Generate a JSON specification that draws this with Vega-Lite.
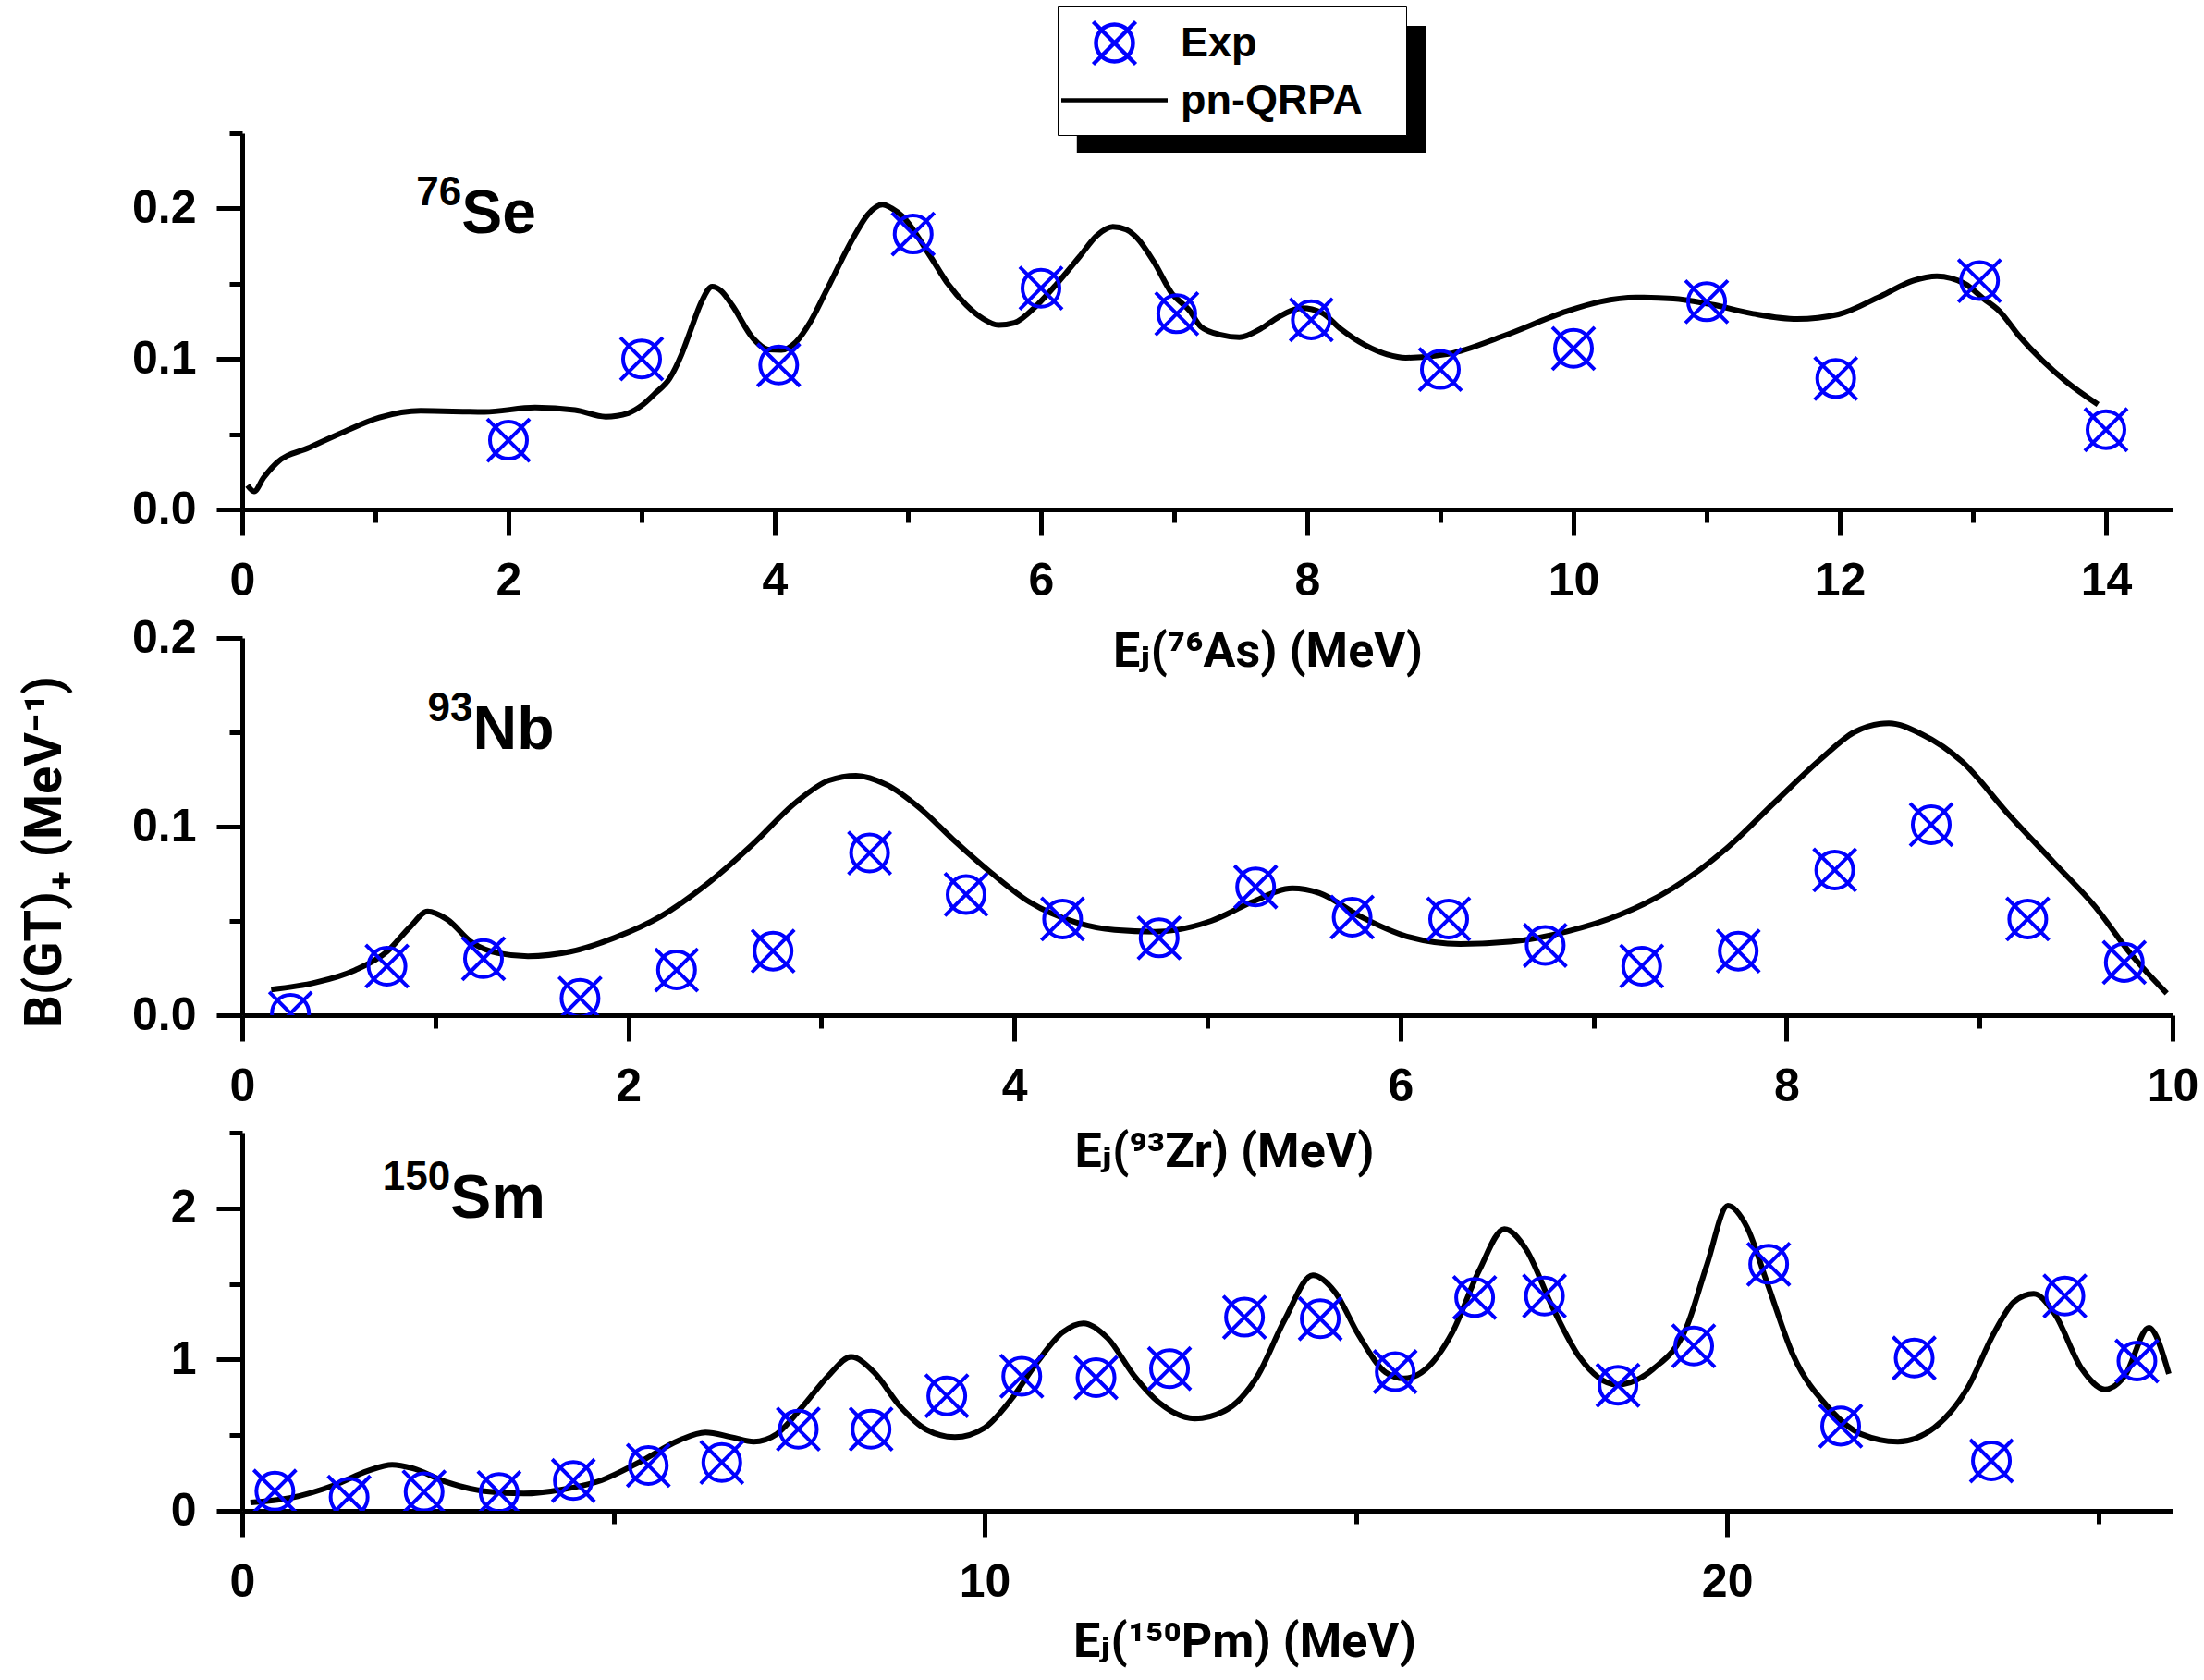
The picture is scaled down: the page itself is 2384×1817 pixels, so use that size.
{
  "$schema": "https://vega.github.io/schema/vega-lite/v6.json",
  "background": "white",
  "padding": {"left": 20, "top": 6, "right": 5, "bottom": 5},
  "config": {
    "font": "Liberation Sans",
    "view": {"stroke": null},
    "axis": {
      "grid": false,
      "domainColor": "black",
      "domainWidth": 5,
      "tickColor": "black",
      "tickWidth": 5,
      "tickSize": 28,
      "labelFont": "Liberation Sans",
      "labelFontWeight": "bold",
      "labelFontSize": 50,
      "labelColor": "black",
      "labelFlush": false,
      "labelOverlap": false,
      "titleFont": "Roboto, Liberation Sans, DejaVu Sans, sans-serif",
      "titleFontWeight": "bold",
      "titleFontSize": 52,
      "titleColor": "black"
    },
    "axisX": {"labelPadding": 24},
    "axisY": {"labelPadding": 22}
  },
  "datasets": {
    "se_exp": [
      {"E": 2.0, "B": 0.046, "series": "Exp"},
      {"E": 3.0, "B": 0.100, "series": "Exp"},
      {"E": 4.03, "B": 0.096, "series": "Exp"},
      {"E": 5.04, "B": 0.183, "series": "Exp"},
      {"E": 6.0, "B": 0.147, "series": "Exp"},
      {"E": 7.02, "B": 0.130, "series": "Exp"},
      {"E": 8.03, "B": 0.126, "series": "Exp"},
      {"E": 9.0, "B": 0.093, "series": "Exp"},
      {"E": 10.0, "B": 0.107, "series": "Exp"},
      {"E": 11.0, "B": 0.138, "series": "Exp"},
      {"E": 11.97, "B": 0.087, "series": "Exp"},
      {"E": 13.05, "B": 0.152, "series": "Exp"},
      {"E": 14.0, "B": 0.053, "series": "Exp"}
    ],
    "se_th": [
      {"E": 0.04, "B": 0.016}, {"E": 0.09, "B": 0.012}, {"E": 0.16, "B": 0.021}, {"E": 0.26, "B": 0.031},
      {"E": 0.5, "B": 0.041}, {"E": 0.75, "B": 0.051}, {"E": 1.03, "B": 0.061}, {"E": 1.34, "B": 0.0655},
      {"E": 1.82, "B": 0.0648}, {"E": 2.2, "B": 0.0677}, {"E": 2.5, "B": 0.066}, {"E": 2.73, "B": 0.0616},
      {"E": 2.9, "B": 0.064}, {"E": 3.0, "B": 0.069}, {"E": 3.1, "B": 0.077}, {"E": 3.21, "B": 0.087},
      {"E": 3.3, "B": 0.103}, {"E": 3.37, "B": 0.1195}, {"E": 3.45, "B": 0.138}, {"E": 3.53, "B": 0.148},
      {"E": 3.6, "B": 0.145}, {"E": 3.68, "B": 0.1357}, {"E": 3.84, "B": 0.1134}, {"E": 3.95, "B": 0.1063},
      {"E": 4.05, "B": 0.106}, {"E": 4.16, "B": 0.1113}, {"E": 4.27, "B": 0.125}, {"E": 4.38, "B": 0.1439},
      {"E": 4.59, "B": 0.1805}, {"E": 4.7, "B": 0.196}, {"E": 4.81, "B": 0.2025}, {"E": 4.88, "B": 0.2},
      {"E": 4.96, "B": 0.1947}, {"E": 5.17, "B": 0.168}, {"E": 5.3, "B": 0.15}, {"E": 5.44, "B": 0.1357},
      {"E": 5.56, "B": 0.127}, {"E": 5.68, "B": 0.1225}, {"E": 5.8, "B": 0.124}, {"E": 5.97, "B": 0.1357},
      {"E": 6.12, "B": 0.15}, {"E": 6.29, "B": 0.168}, {"E": 6.42, "B": 0.182}, {"E": 6.54, "B": 0.1878},
      {"E": 6.64, "B": 0.186}, {"E": 6.72, "B": 0.1805}, {"E": 6.85, "B": 0.1642}, {"E": 6.98, "B": 0.1439},
      {"E": 7.12, "B": 0.1317}, {"E": 7.2, "B": 0.1215}, {"E": 7.35, "B": 0.116}, {"E": 7.49, "B": 0.1144},
      {"E": 7.65, "B": 0.12}, {"E": 7.78, "B": 0.1276}, {"E": 7.96, "B": 0.1337}, {"E": 8.11, "B": 0.1306},
      {"E": 8.25, "B": 0.12}, {"E": 8.43, "B": 0.1094}, {"E": 8.6, "B": 0.103}, {"E": 8.74, "B": 0.1008},
      {"E": 9.06, "B": 0.1033}, {"E": 9.48, "B": 0.1155}, {"E": 9.95, "B": 0.1317}, {"E": 10.2, "B": 0.138},
      {"E": 10.47, "B": 0.1408}, {"E": 10.75, "B": 0.14}, {"E": 11.0, "B": 0.1368}, {"E": 11.35, "B": 0.13},
      {"E": 11.68, "B": 0.1265}, {"E": 11.99, "B": 0.1296}, {"E": 12.31, "B": 0.1418}, {"E": 12.55, "B": 0.152},
      {"E": 12.73, "B": 0.155}, {"E": 12.94, "B": 0.15}, {"E": 13.08, "B": 0.14}, {"E": 13.2, "B": 0.1317},
      {"E": 13.35, "B": 0.115}, {"E": 13.52, "B": 0.0991}, {"E": 13.7, "B": 0.085}, {"E": 13.94, "B": 0.0697}
    ],
    "nb_exp": [
      {"E": 0.25, "B": 0.001}, {"E": 0.75, "B": 0.026}, {"E": 1.25, "B": 0.030}, {"E": 1.75, "B": 0.009},
      {"E": 2.25, "B": 0.024}, {"E": 2.75, "B": 0.034}, {"E": 3.25, "B": 0.086}, {"E": 3.75, "B": 0.064},
      {"E": 4.25, "B": 0.051}, {"E": 4.75, "B": 0.041}, {"E": 5.25, "B": 0.068}, {"E": 5.75, "B": 0.052},
      {"E": 6.25, "B": 0.051}, {"E": 6.75, "B": 0.037}, {"E": 7.25, "B": 0.026}, {"E": 7.75, "B": 0.034},
      {"E": 8.25, "B": 0.077}, {"E": 8.75, "B": 0.101}, {"E": 9.25, "B": 0.051}, {"E": 9.75, "B": 0.028}
    ],
    "nb_th": [
      {"E": 0.15, "B": 0.0136}, {"E": 0.38, "B": 0.0173}, {"E": 0.585, "B": 0.0239}, {"E": 0.75, "B": 0.0337},
      {"E": 0.87, "B": 0.0468}, {"E": 0.96, "B": 0.055}, {"E": 1.06, "B": 0.0509}, {"E": 1.19, "B": 0.0386},
      {"E": 1.325, "B": 0.0329}, {"E": 1.48, "B": 0.0313}, {"E": 1.7, "B": 0.0337}, {"E": 1.93, "B": 0.0411},
      {"E": 2.17, "B": 0.0525}, {"E": 2.4, "B": 0.0689}, {"E": 2.64, "B": 0.0902}, {"E": 2.87, "B": 0.113},
      {"E": 3.04, "B": 0.1245}, {"E": 3.18, "B": 0.127}, {"E": 3.34, "B": 0.1221}, {"E": 3.51, "B": 0.1098},
      {"E": 3.68, "B": 0.0934}, {"E": 3.88, "B": 0.0755}, {"E": 4.08, "B": 0.0599}, {"E": 4.32, "B": 0.0492},
      {"E": 4.52, "B": 0.0452}, {"E": 4.73, "B": 0.0443}, {"E": 5.02, "B": 0.05}, {"E": 5.23, "B": 0.0599},
      {"E": 5.44, "B": 0.0673}, {"E": 5.58, "B": 0.0648}, {"E": 5.79, "B": 0.0525}, {"E": 6.03, "B": 0.0419},
      {"E": 6.31, "B": 0.0378}, {"E": 6.58, "B": 0.0391}, {"E": 6.86, "B": 0.0443}, {"E": 7.14, "B": 0.0534},
      {"E": 7.41, "B": 0.0673}, {"E": 7.69, "B": 0.0885}, {"E": 7.94, "B": 0.113}, {"E": 8.18, "B": 0.136},
      {"E": 8.35, "B": 0.15}, {"E": 8.53, "B": 0.1548}, {"E": 8.7, "B": 0.149}, {"E": 8.91, "B": 0.1344},
      {"E": 9.15, "B": 0.1065}, {"E": 9.39, "B": 0.0804}, {"E": 9.6, "B": 0.0574}, {"E": 9.78, "B": 0.0329},
      {"E": 9.97, "B": 0.0116}
    ],
    "sm_exp": [
      {"E": 0.44, "B": 0.13}, {"E": 1.44, "B": 0.09}, {"E": 2.45, "B": 0.125}, {"E": 3.46, "B": 0.12},
      {"E": 4.46, "B": 0.20}, {"E": 5.47, "B": 0.30}, {"E": 6.46, "B": 0.32}, {"E": 7.49, "B": 0.54},
      {"E": 8.47, "B": 0.54}, {"E": 9.49, "B": 0.76}, {"E": 10.5, "B": 0.89}, {"E": 11.5, "B": 0.88},
      {"E": 12.49, "B": 0.94}, {"E": 13.5, "B": 1.28}, {"E": 14.52, "B": 1.27}, {"E": 15.53, "B": 0.92},
      {"E": 16.6, "B": 1.41}, {"E": 17.54, "B": 1.42}, {"E": 18.53, "B": 0.83}, {"E": 19.55, "B": 1.09},
      {"E": 20.56, "B": 1.63}, {"E": 21.53, "B": 0.56}, {"E": 22.52, "B": 1.01}, {"E": 23.56, "B": 0.33},
      {"E": 24.55, "B": 1.42}, {"E": 25.52, "B": 0.99}
    ],
    "sm_th": [
      {"E": 0.11, "B": 0.055}, {"E": 0.64, "B": 0.084}, {"E": 1.25, "B": 0.171}, {"E": 1.69, "B": 0.263},
      {"E": 2.02, "B": 0.304}, {"E": 2.3, "B": 0.28}, {"E": 2.74, "B": 0.192}, {"E": 3.26, "B": 0.13},
      {"E": 3.79, "B": 0.114}, {"E": 4.31, "B": 0.141}, {"E": 4.84, "B": 0.202}, {"E": 5.36, "B": 0.324},
      {"E": 5.89, "B": 0.467}, {"E": 6.24, "B": 0.518}, {"E": 6.59, "B": 0.487}, {"E": 6.89, "B": 0.457},
      {"E": 7.2, "B": 0.508}, {"E": 7.55, "B": 0.691}, {"E": 7.9, "B": 0.895}, {"E": 8.2, "B": 1.017},
      {"E": 8.51, "B": 0.916}, {"E": 8.86, "B": 0.691}, {"E": 9.21, "B": 0.538}, {"E": 9.6, "B": 0.487},
      {"E": 10.0, "B": 0.549}, {"E": 10.35, "B": 0.732}, {"E": 10.7, "B": 0.977}, {"E": 11.05, "B": 1.18},
      {"E": 11.33, "B": 1.24}, {"E": 11.66, "B": 1.14}, {"E": 12.01, "B": 0.895}, {"E": 12.35, "B": 0.715},
      {"E": 12.83, "B": 0.61}, {"E": 13.23, "B": 0.66}, {"E": 13.68, "B": 0.895}, {"E": 14.04, "B": 1.262},
      {"E": 14.42, "B": 1.557}, {"E": 14.72, "B": 1.445}, {"E": 15.04, "B": 1.16}, {"E": 15.4, "B": 0.916},
      {"E": 15.65, "B": 0.875}, {"E": 15.94, "B": 0.936}, {"E": 16.3, "B": 1.18}, {"E": 16.66, "B": 1.588},
      {"E": 17.0, "B": 1.863}, {"E": 17.29, "B": 1.731}, {"E": 17.65, "B": 1.344}, {"E": 18.01, "B": 1.017},
      {"E": 18.51, "B": 0.834}, {"E": 19.0, "B": 0.936}, {"E": 19.46, "B": 1.221}, {"E": 19.73, "B": 1.629},
      {"E": 20.01, "B": 2.017}, {"E": 20.27, "B": 1.873}, {"E": 20.54, "B": 1.506}, {"E": 20.9, "B": 1.017},
      {"E": 21.35, "B": 0.691}, {"E": 21.8, "B": 0.508}, {"E": 22.3, "B": 0.457}, {"E": 22.79, "B": 0.549},
      {"E": 23.24, "B": 0.813}, {"E": 23.6, "B": 1.18}, {"E": 23.87, "B": 1.384}, {"E": 24.13, "B": 1.435},
      {"E": 24.41, "B": 1.303}, {"E": 24.78, "B": 0.936}, {"E": 25.09, "B": 0.803}, {"E": 25.36, "B": 0.895},
      {"E": 25.68, "B": 1.211}, {"E": 25.95, "B": 0.905}
    ],
    "lab_se": [{"x": 1.647, "y": 0.1834, "sup": "76", "el": "Se"}],
    "lab_nb": [{"x": 1.195, "y": 0.1414, "sup": "93", "el": "Nb"}],
    "lab_sm": [{"x": 2.805, "y": 1.935, "sup": "150", "el": "Sm"}],
    "shadow": [{"k": "shadow"}]
  },
  "bounds": "flush",
  "spacing": 139,
  "vconcat": [
    {
      "width": 2088,
      "height": 407,
      "resolve": {"axis": {"x": "independent", "y": "independent"}},
      "layer": [
        {
          "data": {"name": "shadow"},
          "mark": {"type": "square", "filled": true, "size": 0},
          "encoding": {
            "fill": {
              "field": "k", "type": "nominal",
              "scale": {"domain": ["shadow"], "range": ["black"]},
              "legend": {
                "orient": "none", "legendX": 903, "legendY": -116, "title": null,
                "padding": 0, "symbolOffset": 120, "labelOffset": 0, "rowPadding": 0,
                "labelExpr": "''", "labelFontSize": 10,
                "symbolSize": 18769, "symbolStrokeWidth": 0, "symbolOpacity": 1,
                "symbolType": "M -2.755 -1 L 2.755 -1 L 2.755 1 L -2.755 1 Z",
                "symbolFillColor": "black", "symbolStrokeColor": "black", "zindex": 1
              }
            }
          }
        },
        {
          "data": {"name": "se_th"},
          "mark": {"type": "line", "color": "black", "strokeWidth": 6, "interpolate": "monotone"},
          "encoding": {
            "x": {"field": "E", "type": "quantitative", "scale": {"domain": [0, 14.5], "nice": false},
              "axis": {"orient": "bottom", "values": [1, 3, 5, 7, 9, 11, 13], "tickSize": 14, "labels": false, "domain": false, "title": null}},
            "y": {"field": "B", "type": "quantitative", "scale": {"domain": [0, 0.25], "nice": false, "zero": false},
              "axis": {"orient": "left", "values": [0.05, 0.15, 0.25], "tickSize": 14, "labels": false, "domain": false, "title": null}}
          }
        },
        {
          "data": {"name": "se_exp"},
          "mark": {"type": "point", "filled": false, "strokeWidth": 4, "size": 2116, "opacity": 1, "clip": true},
          "encoding": {
            "x": {"field": "E", "type": "quantitative", "scale": {"domain": [0, 14.5], "nice": false},
              "axis": {"orient": "bottom", "values": [0, 2, 4, 6, 8, 10, 12, 14], "format": "d",
                "title": "Eⱼ(⁷⁶As) (MeV)", "titleX": 1109, "titleY": 169, "titleAlign": "center", "titleBaseline": "alphabetic"}},
            "y": {"field": "B", "type": "quantitative", "scale": {"domain": [0, 0.25], "nice": false, "zero": false},
              "axis": {"orient": "left", "values": [0, 0.1, 0.2], "format": ".1f", "title": null}},
            "color": {
              "field": "series", "type": "nominal",
              "scale": {"domain": ["Exp", "pn-QRPA"], "range": ["#0000ff", "#000000"]},
              "legend": {
                "orient": "none", "legendX": 882, "legendY": -137, "title": null,
                "fillColor": "white", "strokeColor": "black",
                "padding": 14, "symbolOffset": 22, "labelOffset": 46, "rowPadding": 4,
                "labelExpr": "datum.label == 'pn-QRPA' ? 'pn-QRPA\u2800' : datum.label",
                "labelFont": "Liberation Sans", "labelFontWeight": "bold", "labelFontSize": 45, "labelColor": "black",
                "symbolSize": 2116, "symbolStrokeWidth": 4.5, "labelLimit": 600, "zindex": 2,
                "encode": {"legend": {"update": {"strokeWidth": {"value": 2}}}}
              }
            },
            "shape": {
              "field": "series", "type": "nominal",
              "scale": {"domain": ["Exp", "pn-QRPA"], "range": [
                "M 0.87 0 C 0.87 0.4805 0.4805 0.87 0 0.87 C -0.4805 0.87 -0.87 0.4805 -0.87 0 C -0.87 -0.4805 -0.4805 -0.87 0 -0.87 C 0.4805 -0.87 0.87 -0.4805 0.87 0 Z M -1 -1 L 1 1 M 1 -1 L -1 1",
                "M -2.5 0 L 2.5 0"
              ]},
              "legend": {
                "orient": "none", "legendX": 882, "legendY": -137, "title": null,
                "fillColor": "white", "strokeColor": "black",
                "padding": 14, "symbolOffset": 22, "labelOffset": 46, "rowPadding": 4,
                "labelExpr": "datum.label == 'pn-QRPA' ? 'pn-QRPA\u2800' : datum.label",
                "labelFont": "Liberation Sans", "labelFontWeight": "bold", "labelFontSize": 45, "labelColor": "black",
                "symbolSize": 2116, "symbolStrokeWidth": 4.5, "labelLimit": 600, "zindex": 2,
                "encode": {"legend": {"update": {"strokeWidth": {"value": 2}}}}
              }
            }
          }
        },
        {
          "data": {"name": "lab_se"},
          "mark": {"type": "text", "align": "right", "baseline": "alphabetic", "dy": -30, "font": "Liberation Sans", "fontWeight": "bold", "fontSize": 44, "color": "black"},
          "encoding": {
            "x": {"field": "x", "type": "quantitative", "scale": {"domain": [0, 14.5], "nice": false}, "axis": null},
            "y": {"field": "y", "type": "quantitative", "scale": {"domain": [0, 0.25], "nice": false, "zero": false}, "axis": null},
            "text": {"field": "sup"}
          }
        },
        {
          "data": {"name": "lab_se"},
          "mark": {"type": "text", "align": "left", "baseline": "alphabetic", "font": "Liberation Sans", "fontWeight": "bold", "fontSize": 66, "color": "black"},
          "encoding": {
            "x": {"field": "x", "type": "quantitative", "scale": {"domain": [0, 14.5], "nice": false}, "axis": null},
            "y": {"field": "y", "type": "quantitative", "scale": {"domain": [0, 0.25], "nice": false, "zero": false}, "axis": null},
            "text": {"field": "el"}
          }
        }
      ]
    },
    {
      "bounds": "flush",
      "spacing": 127,
      "vconcat": [
        {
          "width": 2088,
          "height": 408,
          "resolve": {"axis": {"x": "independent", "y": "independent"}},
          "layer": [
            {
              "data": {"name": "nb_th"},
              "mark": {"type": "line", "color": "black", "strokeWidth": 6, "interpolate": "monotone"},
              "encoding": {
                "x": {"field": "E", "type": "quantitative", "scale": {"domain": [0, 10], "nice": false},
                  "axis": {"orient": "bottom", "values": [1, 3, 5, 7, 9], "tickSize": 14, "labels": false, "domain": false, "title": null}},
                "y": {"field": "B", "type": "quantitative", "scale": {"domain": [0, 0.2], "nice": false, "zero": false},
                  "axis": {"orient": "left", "values": [0.05, 0.15], "tickSize": 14, "labels": false, "domain": false, "title": null}}
              }
            },
            {
              "data": {"name": "nb_exp"},
              "mark": {"type": "point", "filled": false, "strokeWidth": 4, "size": 2116, "opacity": 1, "color": "#0000ff", "clip": true,
                "shape": "M 0.87 0 C 0.87 0.4805 0.4805 0.87 0 0.87 C -0.4805 0.87 -0.87 0.4805 -0.87 0 C -0.87 -0.4805 -0.4805 -0.87 0 -0.87 C 0.4805 -0.87 0.87 -0.4805 0.87 0 Z M -1 -1 L 1 1 M 1 -1 L -1 1"},
              "encoding": {
                "x": {"field": "E", "type": "quantitative", "scale": {"domain": [0, 10], "nice": false},
                  "axis": {"orient": "bottom", "values": [0, 2, 4, 6, 8, 10], "format": "d",
                    "title": "Eⱼ(⁹³Zr) (MeV)", "titleX": 1062, "titleY": 163, "titleAlign": "center", "titleBaseline": "alphabetic"}},
                "y": {"field": "B", "type": "quantitative", "scale": {"domain": [0, 0.2], "nice": false, "zero": false},
                  "axis": {"orient": "left", "values": [0, 0.1, 0.2], "format": ".1f",
                    "title": "B(GT)₊ (MeV⁻¹)", "titleFontSize": 56, "titleX": -185, "titleY": 231, "titleAngle": 270, "titleAlign": "center", "titleBaseline": "bottom"}}
              }
            },
            {
              "data": {"name": "lab_nb"},
              "mark": {"type": "text", "align": "right", "baseline": "alphabetic", "dy": -30, "font": "Liberation Sans", "fontWeight": "bold", "fontSize": 44, "color": "black"},
              "encoding": {
                "x": {"field": "x", "type": "quantitative", "scale": {"domain": [0, 10], "nice": false}, "axis": null},
                "y": {"field": "y", "type": "quantitative", "scale": {"domain": [0, 0.2], "nice": false, "zero": false}, "axis": null},
                "text": {"field": "sup"}
              }
            },
            {
              "data": {"name": "lab_nb"},
              "mark": {"type": "text", "align": "left", "baseline": "alphabetic", "font": "Liberation Sans", "fontWeight": "bold", "fontSize": 66, "color": "black"},
              "encoding": {
                "x": {"field": "x", "type": "quantitative", "scale": {"domain": [0, 10], "nice": false}, "axis": null},
                "y": {"field": "y", "type": "quantitative", "scale": {"domain": [0, 0.2], "nice": false, "zero": false}, "axis": null},
                "text": {"field": "el"}
              }
            }
          ]
        },
        {
          "width": 2088,
          "height": 409,
          "resolve": {"axis": {"x": "independent", "y": "independent"}},
          "layer": [
            {
              "data": {"name": "sm_th"},
              "mark": {"type": "line", "color": "black", "strokeWidth": 6, "interpolate": "monotone"},
              "encoding": {
                "x": {"field": "E", "type": "quantitative", "scale": {"domain": [0, 26], "nice": false},
                  "axis": {"orient": "bottom", "values": [5, 15, 25], "tickSize": 14, "labels": false, "domain": false, "title": null}},
                "y": {"field": "B", "type": "quantitative", "scale": {"domain": [0, 2.5], "nice": false, "zero": false},
                  "axis": {"orient": "left", "values": [0.5, 1.5, 2.5], "tickSize": 14, "labels": false, "domain": false, "title": null}}
              }
            },
            {
              "data": {"name": "sm_exp"},
              "mark": {"type": "point", "filled": false, "strokeWidth": 4, "size": 2116, "opacity": 1, "color": "#0000ff", "clip": true,
                "shape": "M 0.87 0 C 0.87 0.4805 0.4805 0.87 0 0.87 C -0.4805 0.87 -0.87 0.4805 -0.87 0 C -0.87 -0.4805 -0.4805 -0.87 0 -0.87 C 0.4805 -0.87 0.87 -0.4805 0.87 0 Z M -1 -1 L 1 1 M 1 -1 L -1 1"},
              "encoding": {
                "x": {"field": "E", "type": "quantitative", "scale": {"domain": [0, 26], "nice": false},
                  "axis": {"orient": "bottom", "values": [0, 10, 20], "format": "d",
                    "title": "Eⱼ(¹⁵⁰Pm) (MeV)", "titleX": 1084, "titleY": 157, "titleAlign": "center", "titleBaseline": "alphabetic"}},
                "y": {"field": "B", "type": "quantitative", "scale": {"domain": [0, 2.5], "nice": false, "zero": false},
                  "axis": {"orient": "left", "values": [0, 1, 2], "format": "d", "title": null}}
              }
            },
            {
              "data": {"name": "lab_sm"},
              "mark": {"type": "text", "align": "right", "baseline": "alphabetic", "dy": -30, "font": "Liberation Sans", "fontWeight": "bold", "fontSize": 44, "color": "black"},
              "encoding": {
                "x": {"field": "x", "type": "quantitative", "scale": {"domain": [0, 26], "nice": false}, "axis": null},
                "y": {"field": "y", "type": "quantitative", "scale": {"domain": [0, 2.5], "nice": false, "zero": false}, "axis": null},
                "text": {"field": "sup"}
              }
            },
            {
              "data": {"name": "lab_sm"},
              "mark": {"type": "text", "align": "left", "baseline": "alphabetic", "font": "Liberation Sans", "fontWeight": "bold", "fontSize": 66, "color": "black"},
              "encoding": {
                "x": {"field": "x", "type": "quantitative", "scale": {"domain": [0, 26], "nice": false}, "axis": null},
                "y": {"field": "y", "type": "quantitative", "scale": {"domain": [0, 2.5], "nice": false, "zero": false}, "axis": null},
                "text": {"field": "el"}
              }
            }
          ]
        }
      ]
    }
  ]
}
